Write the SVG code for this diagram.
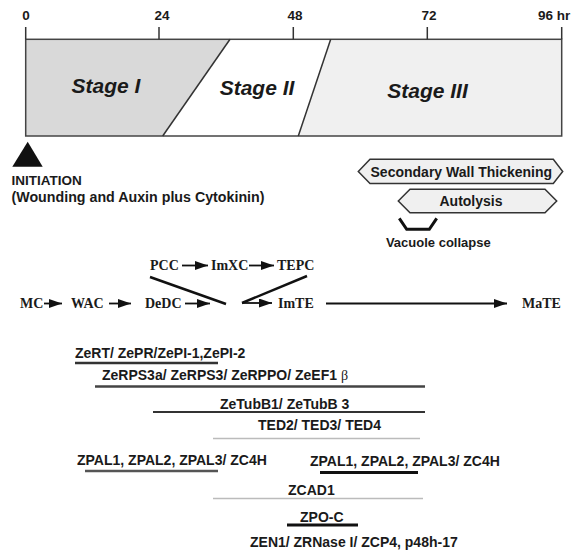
<svg xmlns="http://www.w3.org/2000/svg" width="571" height="553" viewBox="0 0 571 553">
<defs>
<marker id="ah" markerUnits="userSpaceOnUse" markerWidth="14" markerHeight="10" refX="13" refY="4.5" orient="auto">
<path d="M0,0 L13,4.5 L0,9 z" fill="#111"/>
</marker>
<style>
.sans{font-family:"Liberation Sans",Arial,sans-serif;font-weight:bold;fill:#1a1a1a}
.tick{font-size:13.5px;text-anchor:middle}
.stage{font-size:21px;font-style:italic;text-anchor:middle}
.ser{font-family:"Liberation Serif","Times New Roman",serif;font-weight:bold;font-size:14px;fill:#1a1a1a}
.gene{font-size:14px}
.conn{stroke:#111;stroke-width:1.8;fill:none}
.diag{stroke:#111;stroke-width:2.5;fill:none}
.hex{fill:#f0f0f0;stroke:#333;stroke-width:1.5}
</style>
</defs>
<rect width="571" height="553" fill="#ffffff"/>

<g id="timeline">
<polygon points="25.7,39.3 230,39.3 162.7,136 25.7,136" fill="#d9d9d9"/>
<polygon points="230,39.3 330.7,39.3 298.3,136 162.7,136" fill="#ffffff"/>
<polygon points="330.7,39.3 561.7,39.3 561.7,136 298.3,136" fill="#f0f0f0"/>
<rect x="25.7" y="39.3" width="536" height="96.7" fill="none" stroke="#444" stroke-width="1.5"/>
<line x1="230" y1="39.3" x2="162.7" y2="136" stroke="#333" stroke-width="1.5"/>
<line x1="330.7" y1="39.3" x2="298.3" y2="136" stroke="#333" stroke-width="1.5"/>
<g stroke="#333" stroke-width="1.5">
<line x1="25.7" y1="27" x2="25.7" y2="39.3"/>
<line x1="159" y1="27" x2="159" y2="39.3"/>
<line x1="293.3" y1="27" x2="293.3" y2="39.3"/>
<line x1="427.3" y1="27" x2="427.3" y2="39.3"/>
<line x1="561.7" y1="27" x2="561.7" y2="39.3"/>
</g>
<text class="sans tick" x="26" y="20">0</text>
<text class="sans tick" x="162" y="20">24</text>
<text class="sans tick" x="295" y="20">48</text>
<text class="sans tick" x="429" y="20">72</text>
<text class="sans" x="538" y="20" font-size="13.5">96 hr</text>
<text class="sans stage" x="106" y="93">Stage I</text>
<text class="sans stage" x="257" y="95">Stage II</text>
<text class="sans stage" x="427.5" y="98">Stage III</text>
</g>

<g id="initiation">
<polygon points="27.7,141.7 42.7,166.7 12.3,166.7" fill="#111"/>
<text class="sans" x="11.5" y="185" font-size="13.5">INITIATION</text>
<text class="sans" x="11.5" y="201.7" font-size="14" textLength="253" lengthAdjust="spacingAndGlyphs">(Wounding and Auxin plus Cytokinin)</text>
</g>

<g id="secondary-wall">
<polygon class="hex" points="358.3,171.5 370,159.3 553.3,159.3 562.7,171.5 553.3,183.5 370,183.5"/>
<text class="sans" x="461.3" y="176.7" font-size="14" text-anchor="middle">Secondary Wall Thickening</text>
</g>
<g id="autolysis">
<polygon class="hex" points="398.3,201 410,189.3 545,189.3 556.7,201 545,212.7 410,212.7"/>
<text class="sans" x="471" y="205.5" font-size="14" text-anchor="middle">Autolysis</text>
</g>
<g id="vacuole">
<polyline points="399.3,218.3 406.7,229.3 429.3,229.3 436.7,218.3" fill="none" stroke="#111" stroke-width="3"/>
<text class="sans" x="438.3" y="246.7" font-size="13" text-anchor="middle">Vacuole collapse</text>
</g>

<g id="n-MC"><text class="ser" x="20" y="308">MC</text></g>
<g id="n-WAC"><text class="ser" x="71" y="308">WAC</text></g>
<g id="n-DeDC"><text class="ser" x="145" y="308">DeDC</text></g>
<g id="n-ImTE"><text class="ser" x="278" y="308">ImTE</text></g>
<g id="n-MaTE"><text class="ser" x="522" y="308">MaTE</text></g>
<g id="n-PCC"><text class="ser" x="150" y="270">PCC</text></g>
<g id="n-ImXC"><text class="ser" x="211" y="270">ImXC</text></g>
<g id="n-TEPC"><text class="ser" x="277" y="270">TEPC</text></g>

<g id="connectors">
<line class="conn" x1="44" y1="303.5" x2="62" y2="303.5" marker-end="url(#ah)"/>
<line class="conn" x1="109" y1="303.5" x2="131" y2="303.5" marker-end="url(#ah)"/>
<line class="conn" x1="185" y1="303.5" x2="210" y2="303.5" marker-end="url(#ah)"/>
<line class="conn" x1="182" y1="265.5" x2="208" y2="265.5" marker-end="url(#ah)"/>
<line class="conn" x1="249" y1="265.5" x2="274" y2="265.5" marker-end="url(#ah)"/>
<line class="diag" x1="150" y1="277" x2="226" y2="304"/>
<line class="diag" x1="307" y1="276" x2="242" y2="303"/>
<line class="conn" x1="242" y1="303" x2="272" y2="303" marker-end="url(#ah)"/>
<line class="conn" x1="326" y1="303.5" x2="507" y2="303.5" marker-end="url(#ah)"/>
</g>

<g id="gene-ZeRT">
<line x1="75" y1="363" x2="218" y2="363" stroke="#333" stroke-width="2.5"/>
<text class="sans gene" x="75" y="358">ZeRT/ ZePR/ZePI-1,ZePI-2</text>
</g>
<g id="gene-ZeRPS">
<line x1="95" y1="386.5" x2="425" y2="386.5" stroke="#444" stroke-width="2.5"/>
<text class="sans gene" x="102" y="380">ZeRPS3a/ ZeRPS3/ ZeRPPO/ ZeEF1 <tspan font-family="Liberation Serif,serif" font-weight="normal">β</tspan></text>
</g>
<g id="gene-ZeTubB">
<line x1="153" y1="412" x2="425" y2="412" stroke="#333" stroke-width="2"/>
<text class="sans gene" x="220" y="408.5">ZeTubB1/ ZeTubB 3</text>
</g>
<g id="gene-TED">
<line x1="213" y1="438.5" x2="420" y2="438.5" stroke="#bbb" stroke-width="1.5"/>
<text class="sans gene" x="258" y="430">TED2/ TED3/ TED4</text>
</g>
<g id="gene-ZPAL-a">
<line x1="85" y1="471" x2="218" y2="471" stroke="#555" stroke-width="2.5"/>
<text class="sans gene" x="77" y="465">ZPAL1, ZPAL2, ZPAL3/ ZC4H</text>
</g>
<g id="gene-ZPAL-b">
<line x1="320" y1="472.5" x2="418" y2="472.5" stroke="#111" stroke-width="3"/>
<text class="sans gene" x="310" y="466">ZPAL1, ZPAL2, ZPAL3/ ZC4H</text>
</g>
<g id="gene-ZCAD1">
<line x1="213" y1="498.5" x2="423" y2="498.5" stroke="#bbb" stroke-width="1.5"/>
<text class="sans gene" x="288" y="495">ZCAD1</text>
</g>
<g id="gene-ZPO-C">
<line x1="287" y1="525" x2="358" y2="525" stroke="#111" stroke-width="3"/>
<text class="sans gene" x="300" y="522">ZPO-C</text>
</g>
<g id="gene-ZEN1">
<text class="sans gene" x="250" y="546.5">ZEN1/ ZRNase I/ ZCP4, p48h-17</text>
</g>
</svg>
